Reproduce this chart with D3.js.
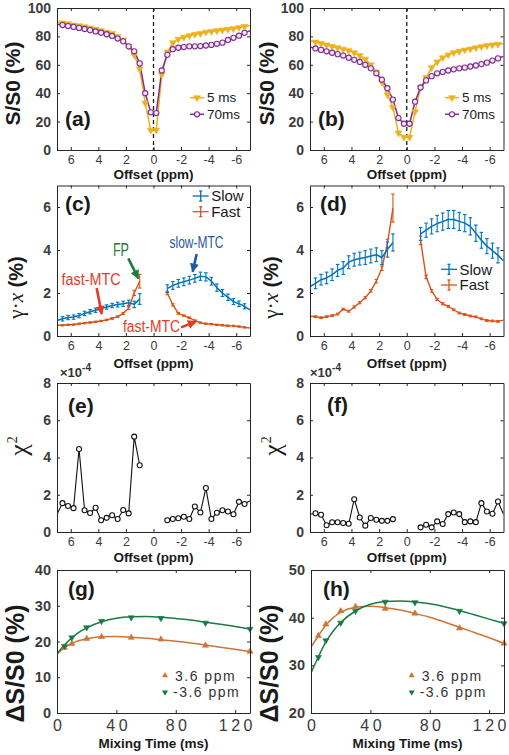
<!DOCTYPE html>
<html><head><meta charset="utf-8">
<script src="https://cdn.jsdelivr.net/npm/d3@7/dist/d3.min.js"></script>
<style>html,body{margin:0;padding:0;background:#fff}svg{display:block}</style>
</head><body>
<svg id="chart" width="509" height="755"></svg>
<script>
// ---------------- DATA ----------------
const offsetsZ = [7.0,6.6,6.2,5.8,5.4,5.0,4.6,4.2,3.8,3.4,3.0,2.6,2.2,1.8,1.4,1.0,0.6,0.2,
                  -0.2,-0.6,-1.0,-1.4,-1.8,-2.2,-2.6,-3.0,-3.4,-3.8,-4.2,-4.6,-5.0,-5.4,-5.8,-6.2,-6.6,-7.0];
const offsetsPos = [7.0,6.6,6.2,5.8,5.4,5.0,4.6,4.2,3.8,3.4,3.0,2.6,2.2,1.8,1.4,1.0];
const offsetsNeg = [-1.0,-1.4,-1.8,-2.2,-2.6,-3.0,-3.4,-3.8,-4.2,-4.6,-5.0,-5.4,-5.8,-6.2,-6.6,-7.0];
const offsetTicks = [6,4,2,0,-2,-4,-6];

// (a) Z-spectra
const aMix5  = [90,89.5,89,88,87.5,86.8,86,85,84,83,82,80,77.5,73,67,57,33,14,
                14,53,69,75.5,78,79.5,80.5,81.5,82,83,83.5,84,84.5,85,85.5,86.2,87,87.5];
const aMix70 = [88.5,88,87.3,86.7,86,85.2,84.4,83.5,82.6,81.5,80.3,78.5,76.5,73,69.5,61,40,26.5,
                26,56,67,71,72,72.5,73,73,73.2,73.6,74,74.8,75.6,77.5,79,80.5,82.5,84];
// (b) Z-spectra
const bMix5  = [77,76,75,74,73,72,71,70,68.5,66.5,64,60,55,48,39,30,12,9,
                9,27,44,51,58,62,65,67,68.5,69.5,70.5,71.2,72,72.8,73.5,74,74.5,75];
const bMix70 = [72.5,71.5,70.5,69.5,68.5,67.5,66.5,65,63.5,62,60,57.5,54,49.5,43.5,35.5,22.5,18.5,
                18.5,34,44,49,52,54,55,56,56.8,57.5,58,58.8,59.5,60.5,61.5,63,64.5,66];
const zTicks = [0,20,40,60,80,100];

// (c) gamma*x fits
const cSlowPos    = [0.72,0.8,0.86,0.88,0.95,1.05,1.13,1.2,1.28,1.35,1.42,1.46,1.5,1.55,1.47,1.72];
const cSlowPosErr = [0.1,0.1,0.1,0.1,0.1,0.1,0.1,0.1,0.1,0.1,0.1,0.11,0.12,0.12,0.15,0.25];
const cFastPos    = [0.5,0.5,0.52,0.53,0.57,0.6,0.63,0.66,0.7,0.75,0.82,0.9,1.05,1.3,2.0,2.55];
const cFastPosErr = [0.03,0.03,0.03,0.03,0.03,0.03,0.03,0.03,0.03,0.03,0.04,0.04,0.05,0.06,0.12,0.32];
const cSlowNeg    = [2.2,2.35,2.45,2.52,2.6,2.68,2.78,2.75,2.55,2.25,2.0,1.8,1.6,1.5,1.38,1.22];
const cSlowNegErr = [0.18,0.18,0.18,0.18,0.18,0.18,0.19,0.19,0.18,0.17,0.16,0.15,0.14,0.13,0.12,0.12];
const cFastNeg    = [2.0,1.45,1.05,0.95,0.85,0.72,0.62,0.57,0.55,0.52,0.5,0.48,0.47,0.44,0.4,0.37];
const cFastNegErr = [0.08,0.05,0.04,0.03,0.03,0.03,0.03,0.03,0.03,0.03,0.03,0.03,0.03,0.03,0.03,0.03];
// (d)
const dSlowPos    = [2.3,2.45,2.62,2.7,2.85,3.05,3.16,3.43,3.55,3.6,3.65,3.72,3.78,3.65,4.02,4.35];
const dSlowPosErr = [0.25,0.25,0.25,0.27,0.27,0.28,0.3,0.3,0.3,0.3,0.32,0.32,0.32,0.32,0.35,0.4];
const dFastPos    = [0.92,0.9,0.85,0.9,0.95,1.02,1.25,1.15,1.35,1.55,1.78,2.1,2.55,3.15,4.3,5.95];
const dFastPosErr = [0.04,0.04,0.04,0.04,0.04,0.04,0.04,0.04,0.05,0.05,0.05,0.06,0.08,0.1,0.2,0.65];
const dSlowNeg    = [4.75,4.92,5.1,5.23,5.32,5.42,5.42,5.33,5.25,5.1,4.78,4.45,4.18,3.97,3.75,3.5];
const dSlowNegErr = [0.3,0.33,0.35,0.38,0.4,0.42,0.42,0.42,0.4,0.4,0.38,0.37,0.35,0.35,0.35,0.35];
const dFastNeg    = [4.45,2.75,2.1,1.7,1.5,1.38,1.22,1.07,1.0,0.93,0.89,0.8,0.72,0.7,0.68,0.74];
const dFastNegErr = [0.2,0.08,0.06,0.05,0.05,0.04,0.04,0.04,0.04,0.04,0.04,0.04,0.04,0.04,0.04,0.04];
const gxTicks = [0,2,4,6];

// (e),(f) chi-square (x1e-4)
const eChiPos = [0.95,1.55,1.4,1.28,4.46,1.17,1.02,1.3,0.63,0.76,0.9,0.7,1.18,1.0,5.12,3.58];
const eChiNeg = [0.63,0.7,0.74,0.82,0.7,1.37,1.05,2.36,0.7,1.03,1.17,1.1,0.95,1.62,1.5,1.68];
const fChiPos = [0.95,1.01,0.93,0.36,0.52,0.52,0.48,0.44,1.76,0.78,0.34,0.75,0.66,0.6,0.6,0.69];
const fChiNeg = [0.25,0.39,0.25,0.57,0.43,0.96,1.05,0.96,0.53,0.57,0.53,1.55,1.1,0.98,1.64,0.95];
const chiTicks = [0,2,4,6,8];

// (g),(h) mixing-time curves
const mixTimes = [5,10,20,30,50,70,100,130];
const gUp   = [18.3,19.4,20.8,21.3,21.1,20.6,18.9,17.2];
const gDown = [18.7,21.1,23.9,25.7,26.7,26.5,25.2,23.5];
const hUp   = [36.2,38.6,41.4,42.3,41.9,40.9,37.8,34.6];
const hDown = [31.7,35.2,38.9,41.4,43.3,43.2,41.4,38.8];
const fitTimes = [0,5,10,15,20,30,40,50,60,70,80,90,100,110,120,130];
const gFitUp   = [16.5,18.3,19.5,20.3,20.8,21.3,21.4,21.2,20.9,20.5,20.1,19.6,19.0,18.4,17.8,17.2];
const gFitDown = [16.5,19.0,21.0,22.6,23.8,25.5,26.5,26.9,27.0,26.8,26.4,26.0,25.4,24.8,24.2,23.5];
const hFitUp   = [33.8,36.2,38.4,40.0,41.1,42.2,42.4,42.1,41.6,40.9,40.1,39.1,38.0,36.9,35.8,34.6];
const hFitDown = [28.4,31.8,34.9,37.2,39.0,41.4,42.8,43.4,43.5,43.3,42.9,42.3,41.5,40.6,39.7,38.8];
const mixTicks = [0,40,80,120];
const gTicks = [0,10,20,30,40];
const hTicks = [20,30,40,50];

const zLegend = ["5 ms","70ms"];
const gxLegend = ["Slow","Fast"];
const mixLegend = ["3.6 ppm","-3.6 ppm"];

// ---------------- STYLE ----------------
const SANS = "'Liberation Sans', Arial, Helvetica, sans-serif";
const SERIF = "'Liberation Serif', 'Times New Roman', serif";
const COL = {yellow:"#EDB120", purple:"#7E2F8E", slow:"#0072BD", fast:"#D95319",
             up:"#CD7535", down:"#1A7A45", axis:"#262626", tick:"#3c3c3c",
             fp:"#1E7B3A", red:"#E53A27", blue:"#1F5AA0"};

const svg = d3.select("#chart");
svg.append("rect").attr("width",509).attr("height",755).attr("fill","#fff");
const defs = svg.append("defs");

function panel(o){
  const x = d3.scaleLinear().domain(o.xd).range([o.l,o.r]);
  const y = d3.scaleLinear().domain(o.yd).range([o.b,o.t]);
  const cid = "clip-"+o.id;
  defs.append("clipPath").attr("id",cid).append("rect")
    .attr("x",o.l).attr("y",o.t).attr("width",o.r-o.l).attr("height",o.b-o.t);
  const data = svg.append("g").attr("clip-path",`url(#${cid})`);
  const over = svg.append("g");
  return {x,y,data,over,o};
}

function axes(p){
  const {x,y,o} = p;
  const g = svg.append("g");
  const bx = g.append("g").attr("transform",`translate(0,${o.b})`)
    .call(d3.axisBottom(x).tickValues(o.xt).tickFormat(d=>String(d))
      .tickSizeInner(-3).tickSizeOuter(0).tickPadding(o.xpad));
  bx.attr("font-family",SANS).attr("font-size",o.xfs).attr("font-weight","normal");
  bx.selectAll("text").attr("fill",COL.tick);
  if (o.xls) bx.selectAll("text").attr("letter-spacing",o.xls).attr("dx",o.xls/2);
  g.append("g").attr("transform",`translate(0,${o.t})`)
    .call(d3.axisTop(x).tickValues(o.xt).tickFormat("").tickSizeInner(-3).tickSizeOuter(0));
  const ly = g.append("g").attr("transform",`translate(${o.l},0)`)
    .call(d3.axisLeft(y).tickValues(o.yt).tickFormat(d=>String(d))
      .tickSizeInner(-3).tickSizeOuter(0).tickPadding(o.ypad));
  ly.attr("font-family",SANS).attr("font-size",o.yfs).attr("font-weight","bold");
  ly.selectAll("text").attr("fill",COL.tick);
  g.append("g").attr("transform",`translate(${o.r},0)`)
    .call(d3.axisRight(y).tickValues(o.yt).tickFormat("").tickSizeInner(-3).tickSizeOuter(0));
  g.selectAll(".domain").attr("stroke",COL.axis).attr("stroke-width",1);
  g.selectAll(".tick line").attr("stroke",COL.axis).attr("stroke-width",1);
  svg.append("text").attr("x",o.lx).attr("y",o.ly).text(o.letter)
    .attr("font-family",SANS).attr("font-weight","bold").attr("font-size",21).attr("fill","#1a1a1a");
}

function line(p, xs, ys, color, w){
  p.data.append("path").datum(d3.zip(xs,ys))
    .attr("d", d3.line().x(d=>p.x(d[0])).y(d=>p.y(d[1])))
    .attr("fill","none").attr("stroke",color).attr("stroke-width",w)
    .attr("stroke-linejoin","round");
}
function smooth(p, xs, ys, color, w){
  p.data.append("path").datum(d3.zip(xs,ys))
    .attr("d", d3.line().curve(d3.curveMonotoneX).x(d=>p.x(d[0])).y(d=>p.y(d[1])))
    .attr("fill","none").attr("stroke",color).attr("stroke-width",w);
}
const inPPM = v => Math.abs(v) < 6.95;

function tri(p, xs, ys, color, down, size, filter){
  const sym = d3.symbol().type(d3.symbolTriangle).size(size);
  d3.zip(xs,ys).filter(d=>!filter||filter(d[0])).forEach(d=>{
    p.over.append("path").attr("d",sym())
      .attr("transform",`translate(${p.x(d[0])},${p.y(d[1])})${down?" rotate(180)":""}`)
      .attr("fill",color).attr("stroke",color).attr("stroke-width",0.6);
  });
}
function circ(p, xs, ys, color, r, fill, filter){
  d3.zip(xs,ys).filter(d=>!filter||filter(d[0])).forEach(d=>{
    p.over.append("circle").attr("cx",p.x(d[0])).attr("cy",p.y(d[1])).attr("r",r)
      .attr("fill",fill).attr("stroke",color).attr("stroke-width",1.1);
  });
}
function errbars(p, xs, ys, es, color){
  d3.zip(xs,ys,es).filter(d=>inPPM(d[0])).forEach(d=>{
    const cx=p.x(d[0]), y0=p.y(d[1]-d[2]), y1=p.y(d[1]+d[2]);
    const g=p.over.append("g").attr("stroke",color).attr("stroke-width",1.1);
    g.append("line").attr("x1",cx).attr("x2",cx).attr("y1",y0).attr("y2",y1);
    g.append("line").attr("x1",cx-1.8).attr("x2",cx+1.8).attr("y1",y0).attr("y2",y0);
    g.append("line").attr("x1",cx-1.8).attr("x2",cx+1.8).attr("y1",y1).attr("y2",y1);
  });
}
function ylabelRot(x, y, build){
  const t = svg.append("text").attr("transform",`translate(${x},${y}) rotate(-90)`)
    .attr("text-anchor","middle").attr("fill","#1a1a1a");
  build(t);
}
function xlabel(p, txt, yb){
  svg.append("text").attr("x",(p.o.l+p.o.r)/2).attr("y",yb).attr("text-anchor","middle")
    .attr("font-family",SANS).attr("font-weight","bold").attr("font-size",13.5)
    .attr("fill","#1a1a1a").text(txt);
}

// ---------------- PANELS ----------------
const common = {xd:[7,-7], xt:offsetTicks, xpad:5, xfs:12.5, ypad:6, yfs:14};
const L = {l:57, r:250}, R = {l:310, r:503.5};

// (a),(b)
[[ "a", L, aMix5, aMix70, 65, 190, 20],[ "b", R, bMix5, bMix70, 318, 445, 274]].forEach(([id, side, s5, s70, lx, legx, ylx])=>{
  const p = panel(Object.assign({}, common, side, {id, t:8, b:150, yd:[0,100], yt:zTicks,
     letter:`(${id})`, lx, ly:125.5}));
  p.data.append("line").attr("x1",p.x(0)).attr("x2",p.x(0)).attr("y1",p.o.t).attr("y2",p.o.b)
    .attr("stroke","#1a1a1a").attr("stroke-width",1.3).attr("stroke-dasharray","4,3");
  line(p, offsetsZ, s5, COL.yellow, 1.5);
  line(p, offsetsZ, s70, COL.purple, 1.5);
  tri(p, offsetsZ, s5, COL.yellow, true, 20, inPPM);
  circ(p, offsetsZ, s70, COL.purple, 2.6, "#f4e8f6", inPPM);
  axes(p);
  xlabel(p, "Offset (ppm)", 178.5);
  ylabelRot(ylx, 83.5, t=>t.attr("font-family",SANS).attr("font-weight","bold").attr("font-size",21).text("S/S0 (%)"));
  const lg = svg.append("g").attr("font-family",SANS).attr("font-size",13.5).attr("fill","#1a1a1a");
  [[COL.yellow,97.7,"t"],[COL.purple,114.3,"c"]].forEach(([c,yy,m],i)=>{
    lg.append("line").attr("x1",legx).attr("x2",legx+14).attr("y1",yy).attr("y2",yy)
      .attr("stroke",c).attr("stroke-width",1.5);
    if (m==="t") lg.append("path").attr("d",d3.symbol().type(d3.symbolTriangle).size(20)())
      .attr("transform",`translate(${legx+7},${yy}) rotate(180)`).attr("fill",c).attr("stroke",c).attr("stroke-width",0.6);
    else lg.append("circle").attr("cx",legx+7).attr("cy",yy).attr("r",2.6).attr("fill","#f4e8f6")
      .attr("stroke",c).attr("stroke-width",1.1);
    lg.append("text").attr("x",legx+17).attr("y",yy+4.7).text(zLegend[i]);
  });
});

function arrowMarker(id, color){
  defs.append("marker").attr("id",id).attr("viewBox","0 0 10 10").attr("refX",9).attr("refY",5)
    .attr("markerUnits","userSpaceOnUse").attr("markerWidth",9).attr("markerHeight",9).attr("orient","auto")
    .append("path").attr("d","M0,0 L10,5 L0,10 z").attr("fill",color);
}
arrowMarker("ar-g", COL.fp); arrowMarker("ar-r", COL.red); arrowMarker("ar-b", COL.blue);

// (c),(d)
const gxSets = {
  c:{sp:cSlowPos,spe:cSlowPosErr,fp:cFastPos,fpe:cFastPosErr,sn:cSlowNeg,sne:cSlowNegErr,fn:cFastNeg,fne:cFastNegErr},
  d:{sp:dSlowPos,spe:dSlowPosErr,fp:dFastPos,fpe:dFastPosErr,sn:dSlowNeg,sne:dSlowNegErr,fn:dFastNeg,fne:dFastNegErr}
};
const panelC = {};
[["c",L,65,192.7,196,23],["d",R,320,441,269.3,277.5]].forEach(([id, side, lx, legx, legy, ylx])=>{
  const s = gxSets[id];
  const p = panel(Object.assign({}, common, side, {id, t:185.5, b:336, yd:[0,7], yt:gxTicks,
    letter:`(${id})`, lx, ly:211.3}));
  panelC[id]=p;
  line(p, offsetsPos, s.fp, COL.fast, 1.4); line(p, offsetsNeg, s.fn, COL.fast, 1.4);
  errbars(p, offsetsPos, s.fp, s.fpe, COL.fast); errbars(p, offsetsNeg, s.fn, s.fne, COL.fast);
  line(p, offsetsPos, s.sp, COL.slow, 1.5); line(p, offsetsNeg, s.sn, COL.slow, 1.5);
  errbars(p, offsetsPos, s.sp, s.spe, COL.slow); errbars(p, offsetsNeg, s.sn, s.sne, COL.slow);
  axes(p);
  xlabel(p, "Offset (ppm)", 367.5);
  ylabelRot(ylx, 287.5, t=>{
    t.append("tspan").attr("font-family",SERIF).attr("font-size",21).text("γ·");
    t.append("tspan").attr("font-family",SERIF).attr("font-style","italic").attr("font-size",21).text("x");
    t.append("tspan").attr("font-family",SANS).attr("font-weight","bold").attr("font-size",20).text(" (%)");
  });
  const lg = svg.append("g").attr("font-family",SANS).attr("font-size",15).attr("fill","#1a1a1a");
  [[COL.slow,legy],[COL.fast,legy+15.7]].forEach(([c,yy],i)=>{
    const g = lg.append("g").attr("stroke",c).attr("stroke-width",1.3);
    g.append("line").attr("x1",legx).attr("x2",legx+16).attr("y1",yy).attr("y2",yy);
    g.append("line").attr("x1",legx+8).attr("x2",legx+8).attr("y1",yy-5).attr("y2",yy+5);
    g.append("line").attr("x1",legx+6.5).attr("x2",legx+9.5).attr("y1",yy-5).attr("y2",yy-5);
    g.append("line").attr("x1",legx+6.5).attr("x2",legx+9.5).attr("y1",yy+5).attr("y2",yy+5);
    lg.append("text").attr("x",legx+18.5).attr("y",yy+5.3).text(gxLegend[i]);
  });
});

// annotations in (c), positioned in data units
const annText = [
  {t:"FP", x:2.36, y:3.72, c:COL.fp, fs:18, len:16},
  {t:"fast-MTC", x:4.53, y:2.37, c:COL.red, fs:16, len:59},
  {t:"slow-MTC", x:-3.12, y:4.09, c:COL.blue, fs:16, len:54},
  {t:"fast-MTC", x:0.15, y:0.19, c:COL.red, fs:16, len:57}
];
const annArrow = [
  {x0:1.83, y0:3.61, x1:1.10, y1:2.68, c:COL.fp, m:"ar-g"},
  {x0:4.12, y0:2.23, x1:3.76, y1:1.02, c:COL.red, m:"ar-r"},
  {x0:-3.13, y0:3.81, x1:-2.84, y1:2.99, c:COL.blue, m:"ar-b"},
  {x0:-2.0, y0:0.4, x1:-3.08, y1:0.67, c:COL.red, m:"ar-r"}
];
{
  const p = panelC.c;
  annText.forEach(a=>{
    svg.append("text").attr("x",p.x(a.x)).attr("y",p.y(a.y)).attr("text-anchor","middle")
      .attr("font-family",SANS).attr("font-size",a.fs).attr("fill",a.c)
      .attr("textLength",a.len).attr("lengthAdjust","spacingAndGlyphs").text(a.t);
  });
  annArrow.forEach(a=>{
    svg.append("line").attr("x1",p.x(a.x0)).attr("y1",p.y(a.y0)).attr("x2",p.x(a.x1)).attr("y2",p.y(a.y1))
      .attr("stroke",a.c).attr("stroke-width",2.6).attr("marker-end",`url(#${a.m})`);
  });
}

// (e),(f)
[["e",L,eChiPos,eChiNeg,68,412.5,27,60],["f",R,fChiPos,fChiNeg,327,412,281,310]].forEach(([id, side, cp, cn, lx, lyy, ylx, mx])=>{
  const p = panel(Object.assign({}, common, side, {id, t:383, b:532, yd:[0,8], yt:chiTicks,
    letter:`(${id})`, lx, ly:lyy}));
  line(p, offsetsPos, cp, "#111", 1.1); line(p, offsetsNeg, cn, "#111", 1.1);
  circ(p, offsetsPos, cp, "#111", 2.5, "#fff", inPPM);
  circ(p, offsetsNeg, cn, "#111", 2.5, "#fff", inPPM);
  axes(p);
  xlabel(p, "Offset (ppm)", 562);
  ylabelRot(ylx, 446, t=>{
    t.append("tspan").attr("font-family",SERIF).attr("font-size",26).text("χ");
    t.append("tspan").attr("font-family",SERIF).attr("font-size",14).attr("dy",-10).attr("dx",1).text("2");
  });
  const ex = svg.append("text").attr("x",mx).attr("y",377).attr("font-family",SANS)
    .attr("font-weight","bold").attr("fill","#333");
  ex.append("tspan").attr("font-size",13).text("×10");
  ex.append("tspan").attr("font-size",10).attr("dy",-6).text("-4");
});

// (g),(h)
[["g",{l:57,r:250},[0,40],gTicks,gUp,gDown,gFitUp,gFitDown,68,24,165],
 ["h",{l:311,r:504},[20,50],hTicks,hUp,hDown,hFitUp,hFitDown,323,278,411.7]].forEach(([id, side, yd, yt, up, dn, fu, fd, lx, ylx, legx])=>{
  const p = panel(Object.assign({}, side, {id, t:570, b:713, xd:[0,130], xt:mixTicks, xpad:7, xfs:16, xls:3.5,
    yd, yt, ypad:6, yfs:14.5, letter:`(${id})`, lx, ly:595.5}));
  smooth(p, fitTimes, fu, COL.up, 1.5);
  smooth(p, fitTimes, fd, COL.down, 1.5);
  tri(p, mixTimes, up, COL.up, false, 16);
  tri(p, mixTimes, dn, COL.down, true, 16);
  axes(p);
  xlabel(p, "Mixing Time (ms)", 747.5);
  ylabelRot(ylx, 663.5, t=>t.attr("font-family",SANS).attr("font-weight","bold").attr("font-size",25).text("ΔS/S0 (%)"));
  const lg = svg.append("g").attr("font-family",SANS).attr("font-size",14).attr("fill","#333").attr("letter-spacing",1.5);
  [[COL.up,675.5,false],[COL.down,692.3,true]].forEach(([c,yy,down],i)=>{
    lg.append("path").attr("d",d3.symbol().type(d3.symbolTriangle).size(16)())
      .attr("transform",`translate(${legx},${yy})${down?" rotate(180)":""}`).attr("fill",c);
    lg.append("text").attr("x",legx+(i===0?10:8)).attr("y",yy+5).text(mixLegend[i]);
  });
});
</script>
</body></html>
